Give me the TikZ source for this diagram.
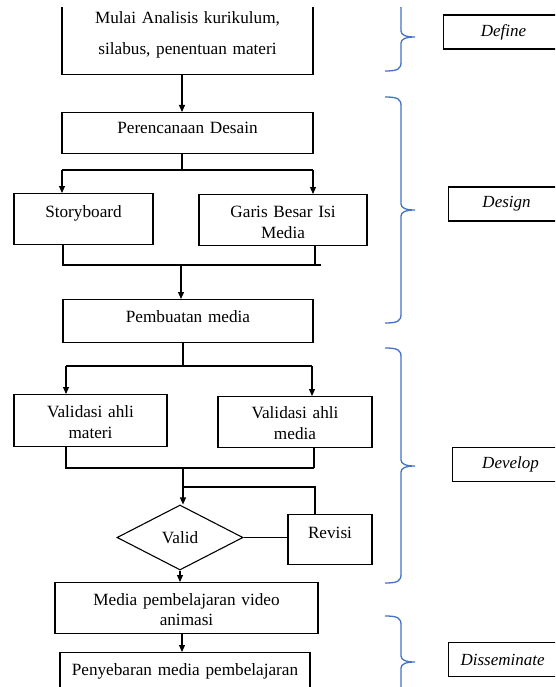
\documentclass[tikz,border=0pt]{standalone}
\usepackage{fontspec}
\setmainfont{Liberation Serif}
\usepackage{xcolor}
\usepackage{tikz}
\usetikzlibrary{shapes,arrows.meta}
\definecolor{braceblue}{RGB}{68,114,196}

\begin{document}
\begin{tikzpicture}[x=1pt,y=-1pt, line width=1.1pt,
	font=\fontsize{17.2}{21}\selectfont,
	>={Triangle[length=7pt,width=6pt]},
	box/.style={draw, anchor=north, inner sep=0pt, text width=#1, align=center, text height=23pt},
	phase/.style={draw, anchor=west, minimum height=34pt, inner sep=0pt, font=\fontsize{17}{21}\selectfont\itshape}]
	\useasboundingbox (0,0) rectangle (555,687);
	\begin{scope}
		\clip (0,8) rectangle (555,687);
		
		% Define
		\node[box=251pt, text height=33pt, text depth=51pt, font=\fontsize{17.2}{31}\selectfont] (analisis) at (187.5,-10) {Mulai Analisis kurikulum,\\ silabus, penentuan materi};
		
		% Design
		\node[box=251pt, text height=21pt, text depth=20pt] (desain) at (187.5,112) {Perencanaan Desain};
		\node[box=139pt, text height=24pt, text depth=27pt] (story) at (83.5,193) {Storyboard};
		\node[box=168pt, text depth=28pt] (garis) at (283,194) {Garis Besar Isi\\ Media};
		\node[box=250pt, text depth=20pt] (pembuatan) at (188,299) {Pembuatan media};
		
		% Develop
		\node[box=153pt, text depth=29pt] (materi) at (90.5,394) {Validasi ahli\\ materi};
		\node[box=154pt, text height=22pt, text depth=29pt] (mediaahli) at (295,396) {Validasi ahli\\ media};
		\node[draw, diamond, minimum width=126pt, minimum height=65pt, inner sep=0pt] (valid) at (180,537.5) {Valid};
		\node[box=84pt, text height=24pt, text depth=26pt] (revisi) at (330,514) {Revisi};
		\node[box=263pt, text depth=28pt, font=\fontsize{17.2}{20}\selectfont] (video) at (186.5,582) {Media pembelajaran video\\ animasi};
		
		% Disseminate
		\node[box=250pt, text depth=25pt] (sebar) at (185,652) {Penyebaran media pembelajaran};
		
		% alur utama
		\coordinate (spine) at (182,0);
		\draw[->] (analisis.south -| spine) -- (desain.north -| spine);
		
		% cabang desain
		\coordinate (sd) at (182,170);
		\coordinate (sdl) at (62,170);
		\coordinate (sdr) at (313,170);
		\draw (desain.south -| sd) -- (sd);
		\draw (sdl) -- (sdr);
		\draw[->] (sdl) -- (sdl |- story.north);
		\draw[->] (sdr) -- (sdr |- garis.north);
		\coordinate (jdl) at (63,265);
		\coordinate (jdr) at (321,265);
		\coordinate (jdg) at (315,265);
		\coordinate (jdm) at (181,265);
		\draw (jdl |- story.south) -- (jdl) -- (jdr);
		\draw (jdg |- garis.south) -- (jdg);
		\draw[->] (jdm) -- (jdm |- pembuatan.north);
		
		% cabang validasi
		\coordinate (sv) at (183,366);
		\coordinate (svl) at (66,366);
		\coordinate (svr) at (312,366);
		\draw (pembuatan.south -| sv) -- (sv);
		\draw (svl) -- (svr);
		\draw[->] (svl) -- (svl |- materi.north);
		\draw[->] (svr) -- (svr |- mediaahli.north);
		\coordinate (jvl) at (66,468);
		\coordinate (jvr) at (314,468);
		\coordinate (jvm) at (183,468);
		\draw (jvl |- materi.south) -- (jvl) -- (jvr);
		\draw (jvr |- mediaahli.south) -- (jvr);
		\draw[->] (jvm) -- (jvm |- valid.north);
		
		% revisi
		\coordinate (rv) at (183,487);
		\coordinate (rvr) at (315,487);
		\draw (rv) -- (rvr) -- (rvr |- revisi.north);
		\draw (valid.east) -- (valid.east -| revisi.west);
		\draw[->] (valid.south) -- (valid.south |- video.north);
		\draw[->] (video.south -| spine) -- (sebar.north -| spine);
		
		% kurung tahap
		\foreach \ya/\yt/\yb/\lx/\ly/\lw/\name in {0/37/71/443/32/120pt/Define, 97/210/323/448/204/116pt/Design, 348/466/583/452/464.5/116pt/Develop, 616/662/708/448/659.5/108pt/Disseminate} {
			\draw[braceblue, line width=1.3pt] (385,\ya) .. controls (398,\ya) and (401,\ya+2) .. (401,\ya+9) -- (401,\yt-6) .. controls (401,\yt-2) and (406,\yt) .. (415,\yt) .. controls (406,\yt) and (401,\yt+2) .. (401,\yt+6) -- (401,\yb-9) .. controls (401,\yb-2) and (398,\yb) .. (385,\yb);
			\node[phase, minimum width=\lw] (tahap\name) at (\lx,\ly) {\name};
		}
	\end{scope}
\end{tikzpicture}
\end{document}
